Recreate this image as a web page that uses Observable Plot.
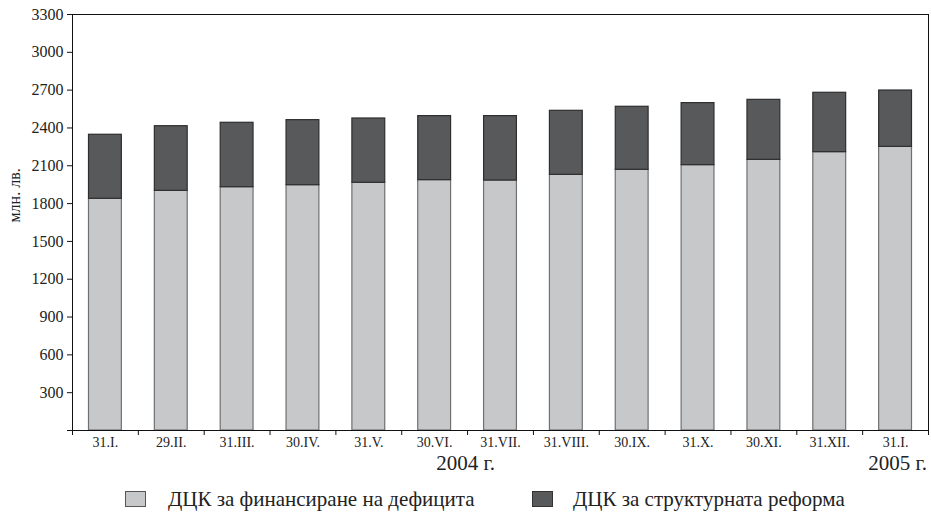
<!DOCTYPE html>
<html>
<head>
<meta charset="utf-8">
<script src="https://cdn.jsdelivr.net/npm/d3@7"></script>
<script src="https://cdn.jsdelivr.net/npm/@observablehq/plot@0.6"></script>
<style>
  body { margin: 0; background: #fff; }
  #wrap { position: relative; width: 931px; height: 513px; font-family: "Liberation Serif", "DejaVu Serif", serif; color: #222; }
  .lbl { position: absolute; font-size: 21px; line-height: 16px; white-space: nowrap; }
  .sw { position: absolute; width: 19px; height: 14px; }
</style>
</head>
<body>
<div id="wrap"></div>
<script>
// ---- data ----
const dates = ["31.I.", "29.II.", "31.III.", "30.IV.", "31.V.", "30.VI.", "31.VII.", "31.VIII.", "30.IX.", "31.X.", "30.XI.", "31.XII.", "31.I."];
const deficit = [1838, 1901, 1930, 1946, 1965, 1986, 1983, 2028, 2068, 2105, 2147, 2208, 2250];
const reform  = [508, 513, 511, 516, 510, 508, 511, 508, 500, 492, 476, 471, 447];
const seriesNames = ["ДЦК за финансиране на дефицита", "ДЦК за структурната реформа"];
const yTicks = [0, 300, 600, 900, 1200, 1500, 1800, 2100, 2400, 2700, 3000, 3300];
const yearLabels = ["2004 г.", "2005 г."];
const yLabel = "млн. лв.";
const colors = ["#c7c8ca", "#58595b"];
const strokes = ["#6f7072", "#2e2e2e"];

// build table
const rows = [];
dates.forEach((d, i) => {
  rows.push({i, series: seriesNames[0], y1: 0, y2: deficit[i]});
  rows.push({i, series: seriesNames[1], y1: deficit[i], y2: deficit[i] + reform[i]});
});

const W = 931;
const chart = Plot.plot({
  width: W,
  height: 456,
  marginLeft: 72,
  marginRight: 3,
  marginTop: 14,
  marginBottom: 26,
  style: {fontFamily: "Liberation Serif, serif", fontSize: "12px", color: "#222", background: "#fff"},
  x: {domain: [0, dates.length], axis: null},
  y: {domain: [0, 3300], axis: null},
  color: {domain: seriesNames, range: colors},
  marks: [
    Plot.rectY(rows, {
      x1: d => d.i, x2: d => d.i + 1, y1: "y1", y2: "y2",
      fill: "series", insetLeft: 16.5, insetRight: 16.5,
      stroke: d => d.series === seriesNames[0] ? strokes[0] : strokes[1],
      strokeWidth: 1.2
    }),
    Plot.frame({stroke: "#111", strokeWidth: 1}),
    Plot.axisY({ticks: yTicks, tickSize: 5, tickPadding: 4, fontSize: 16,
      tickFormat: d => d === 0 ? "" : String(d), stroke: "#111", label: null}),
    Plot.axisX({ticks: d3.range(dates.length + 1), tickSize: 5, tickFormat: () => "", stroke: "#111", label: null}),
    Plot.axisX({ticks: d3.range(dates.length).map(i => i + 0.5), tickSize: 0, tickPadding: 7,
      fontSize: 14, tickFormat: v => dates[Math.floor(v)], label: null}),
    Plot.text([yLabel], {frameAnchor: "left", dx: -58, rotate: -90, fontSize: 16, fill: "#222"})
  ]
});
chart.style.display = "block";
chart.style.stroke = "none";
const wrap = document.getElementById("wrap");
wrap.appendChild(chart);

function addLabel(text, css) {
  const el = document.createElement("div");
  el.className = "lbl";
  el.textContent = text;
  Object.assign(el.style, css);
  wrap.appendChild(el);
}
function addSwatch(color, border, left, top) {
  const el = document.createElement("div");
  el.className = "sw";
  Object.assign(el.style, {background: color, border: "1px solid " + border, left: left + "px", top: top + "px"});
  wrap.appendChild(el);
}
addLabel(yearLabels[0], {right: (W - 495) + "px", top: "455px"});
addLabel(yearLabels[1], {right: "4px", top: "455px"});
addSwatch(colors[0], "#555", 125, 491);
addLabel(seriesNames[0], {left: "168px", top: "491px"});
addSwatch(colors[1], "#333", 532, 491);
addLabel(seriesNames[1], {left: "573px", top: "491px"});
</script>
</body>
</html>
